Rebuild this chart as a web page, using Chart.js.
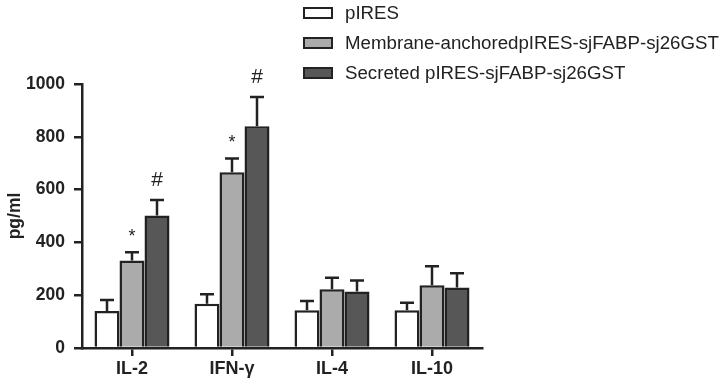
<!DOCTYPE html>
<html>
<head>
<meta charset="utf-8">
<script src="https://cdn.jsdelivr.net/npm/chart.js@4"></script>
<style>
  html, body { margin: 0; padding: 0; background: #fff; }
  #wrap { width: 727px; height: 382px; }
</style>
</head>
<body>
<div id="wrap"><canvas id="cytokineChart" width="727" height="382"></canvas></div>
<script>
// values
const categories = ['IL-2', 'IFN-\u03b3', 'IL-4', 'IL-10'];
const seriesNames = ['pIRES', 'Membrane-anchoredpIRES-sjFABP-sj26GST', 'Secreted pIRES-sjFABP-sj26GST'];
const pIRES = [140, 168, 143, 143];
const pIRESErr = [42, 36, 35, 28];
const membrane = [331, 666, 223, 238];
const membraneErr = [32, 52, 43, 72];
const secreted = [502, 840, 214, 229];
const secretedErr = [59, 111, 42, 54];
const membraneMarks = ['*', '*', '', ''];
const secretedMarks = ['#', '#', '', ''];
const yTicks = [0, 200, 400, 600, 800, 1000];

const FONT = 'Arial, "Liberation Sans", sans-serif';

// error bars (upper only) + significance marks
const errorBarPlugin = {
    id: 'errorBars',
    afterDatasetsDraw(chart) {
        const ctx = chart.ctx;
        const y = chart.scales.y;
        chart.data.datasets.forEach((ds, i) => {
            const meta = chart.getDatasetMeta(i);
            meta.data.forEach((bar, j) => {
                const top = y.getPixelForValue(ds.data[j] + ds.errors[j]);
                const x = bar.x;
                ctx.save();
                ctx.strokeStyle = '#222';
                ctx.lineWidth = 2.5;
                ctx.beginPath();
                ctx.moveTo(x, bar.y);
                ctx.lineTo(x, top);
                ctx.moveTo(x - 7, top);
                ctx.lineTo(x + 7, top);
                ctx.stroke();
                const mark = ds.marks ? ds.marks[j] : '';
                if (mark) {
                    ctx.fillStyle = '#222';
                    ctx.textAlign = 'center';
                    ctx.textBaseline = 'middle';
                    ctx.font = mark === '#' ? '21px ' + FONT : '18px ' + FONT;
                    ctx.fillText(mark, x, top - (mark === '#' ? 20 : 15));
                }
                ctx.restore();
            });
        });
    }
};

// legend stacked at the top right
const legendPlugin = {
    id: 'stackLegend',
    afterDraw(chart) {
        const ctx = chart.ctx;
        chart.data.datasets.forEach((ds, i) => {
            const cy = 13 + i * 30;
            ctx.save();
            ctx.fillStyle = ds.backgroundColor;
            ctx.strokeStyle = '#222';
            ctx.lineWidth = 2;
            ctx.fillRect(304, cy - 5, 28, 10);
            ctx.strokeRect(304, cy - 5, 28, 10);
            ctx.fillStyle = '#222';
            ctx.font = '18.7px ' + FONT;
            ctx.textBaseline = 'middle';
            ctx.textAlign = 'left';
            ctx.fillText(ds.label, 345, cy + 1);
            ctx.restore();
        });
    }
};

new Chart(document.getElementById('cytokineChart'), {
    type: 'bar',
    data: {
        labels: categories,
        datasets: [
            { label: seriesNames[0], data: pIRES, errors: pIRESErr, backgroundColor: '#ffffff' },
            { label: seriesNames[1], data: membrane, errors: membraneErr, marks: membraneMarks, backgroundColor: '#ababab' },
            { label: seriesNames[2], data: secreted, errors: secretedErr, marks: secretedMarks, backgroundColor: '#575757' }
        ].map(d => Object.assign(d, {
            borderColor: '#222',
            borderWidth: 2.5,
            categoryPercentage: 0.75,
            barPercentage: 1
        }))
    },
    options: {
        responsive: false,
        animation: false,
        layout: { padding: { left: 0, top: 84, right: 245, bottom: 0 } },
        plugins: {
            legend: { display: false },
            tooltip: { enabled: false }
        },
        scales: {
            x: {
                afterFit: s => { s.height = 34; },
                border: { color: '#222', width: 2.5 },
                grid: { display: true, offset: false, drawOnChartArea: false, drawTicks: true, tickLength: 8, color: '#222', lineWidth: 2.5 },
                ticks: { color: '#222', padding: 2, font: { family: FONT, size: 18, weight: 'bold' } }
            },
            y: {
                min: 0,
                max: 1000,
                afterFit: s => { s.width = 82; },
                afterBuildTicks: s => { s.ticks = yTicks.map(v => ({ value: v })); },
                border: { color: '#222', width: 2.5 },
                grid: { drawOnChartArea: false, drawTicks: true, tickLength: 8, color: '#222', lineWidth: 2.5 },
                ticks: { color: '#222', padding: 9, callback: v => String(v), font: { family: FONT, size: 17.5, weight: 'bold' } },
                title: { display: true, text: 'pg/ml', color: '#222', padding: { top: 5, bottom: 0 }, font: { family: FONT, size: 17.5, weight: 'bold' } }
            }
        }
    },
    plugins: [errorBarPlugin, legendPlugin]
});
</script>
</body>
</html>
